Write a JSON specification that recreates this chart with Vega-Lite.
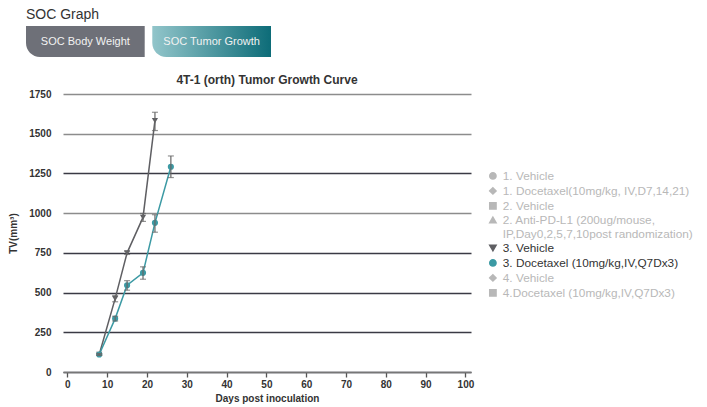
{
  "$schema": "https://vega.github.io/schema/vega-lite/v6.json",
  "padding": {"left": 8, "top": 8, "right": 5, "bottom": 5},
  "config": {
    "font": "Liberation Sans",
    "view": {"stroke": null},
    "concat": {"spacing": 17}
  },
  "vconcat": [
    {
      "width": 245,
      "height": 31,
      "title": {"text": "SOC Graph", "anchor": "start", "fontSize": 14, "fontWeight": "normal", "color": "#333333", "offset": 4},
      "data": {"values": [{"tab": "SOC Body Weight"}, {"tab": "SOC Tumor Growth"}]},
      "encoding": {
        "x": {"field": "tab", "type": "nominal", "axis": null,
              "scale": {"domain": ["SOC Body Weight", "SOC Tumor Growth"], "range": [-37, 208], "paddingInner": 0.06, "paddingOuter": 0}}
      },
      "layer": [
        {
          "transform": [{"filter": "datum.tab == 'SOC Body Weight'"}],
          "mark": {"type": "bar", "fill": "#6e7078", "cornerRadiusBottomLeft": 14}
        },
        {
          "transform": [{"filter": "datum.tab == 'SOC Tumor Growth'"}],
          "mark": {"type": "bar", "cornerRadiusBottomLeft": 14,
                   "fill": {"gradient": "linear", "x1": 0, "y1": 0, "x2": 1, "y2": 0,
                            "stops": [{"offset": 0, "color": "#92c5ca"}, {"offset": 1, "color": "#0d6c78"}]}}
        },
        {
          "mark": {"type": "text", "color": "#f2f2f2", "fontSize": 11},
          "encoding": {"text": {"field": "tab"}}
        }
      ]
    },
    {
      "width": 408,
      "height": 278,
      "title": {"text": "4T-1 (orth) Tumor Growth Curve", "fontSize": 12, "fontWeight": "bold", "color": "#333333", "offset": 2},
      "data": {
        "values": [
          {"group": "3. Vehicle", "day": 8, "tv": 110, "lo": 105, "hi": 115},
          {"group": "3. Vehicle", "day": 12, "tv": 462, "lo": 442, "hi": 482},
          {"group": "3. Vehicle", "day": 15, "tv": 750, "lo": 740, "hi": 760},
          {"group": "3. Vehicle", "day": 19, "tv": 973, "lo": 948, "hi": 998},
          {"group": "3. Vehicle", "day": 22, "tv": 1582, "lo": 1520, "hi": 1635},
          {"group": "3. Docetaxel (10mg/kg,IV,Q7Dx3)", "day": 8, "tv": 110, "lo": 105, "hi": 115},
          {"group": "3. Docetaxel (10mg/kg,IV,Q7Dx3)", "day": 12, "tv": 336, "lo": 321, "hi": 351},
          {"group": "3. Docetaxel (10mg/kg,IV,Q7Dx3)", "day": 15, "tv": 546, "lo": 515, "hi": 575},
          {"group": "3. Docetaxel (10mg/kg,IV,Q7Dx3)", "day": 19, "tv": 624, "lo": 584, "hi": 662},
          {"group": "3. Docetaxel (10mg/kg,IV,Q7Dx3)", "day": 22, "tv": 939, "lo": 880, "hi": 990},
          {"group": "3. Docetaxel (10mg/kg,IV,Q7Dx3)", "day": 26, "tv": 1292, "lo": 1224, "hi": 1360}
        ]
      },
      "encoding": {
        "x": {
          "field": "day", "type": "quantitative",
          "scale": {"domain": [-1.1, 101.4], "nice": false, "zero": false},
          "axis": {
            "values": [0, 10, 20, 30, 40, 50, 60, 70, 80, 90, 100], "tickCount": 20, "labelOverlap": false,
            "title": "Days post inoculation", "titleFontSize": 10, "titleFontWeight": "bold", "titleColor": "#333333", "titlePadding": 4,
            "labelFontSize": 10, "labelFontWeight": "bold", "labelColor": "#333333", "labelPadding": 2,
            "grid": false, "domainColor": "#777777", "domainWidth": 1.3, "tickColor": "#555555", "tickSize": 5, "tickWidth": 1.3
          }
        }
      },
      "layer": [
        {
          "mark": {"type": "line", "strokeWidth": 1.5},
          "encoding": {
            "y": {
              "field": "tv", "type": "quantitative",
              "scale": {"domain": [0, 1750], "nice": false},
              "axis": {
                "values": [0, 250, 500, 750, 1000, 1250, 1500, 1750], "tickCount": 20, "format": "d", "labelOverlap": false,
                "title": "TV(mm³)", "titleFontSize": 10, "titleFontWeight": "bold", "titleColor": "#333333", "titlePadding": 10,
                "labelFontSize": 10, "labelFontWeight": "bold", "labelColor": "#333333", "labelPadding": 12,
                "domain": false, "ticks": false, "grid": true, "gridWidth": 1.3,
                "gridColor": {"condition": {"test": "datum.value == 1000 || datum.value == 1500 || datum.value == 1750", "value": "#8c8c8c"}, "value": "#3a3a44"}
              }
            },
            "color": {
              "field": "group", "type": "nominal",
              "scale": {
                "domain": ["1. Vehicle", "1. Docetaxel(10mg/kg, IV,D7,14,21)", "2. Vehicle", "2. Anti-PD-L1 (200ug/mouse, IP,Day0,2,5,7,10post randomization)", "3. Vehicle", "3. Docetaxel (10mg/kg,IV,Q7Dx3)", "4. Vehicle", "4.Docetaxel (10mg/kg,IV,Q7Dx3)"],
                "range": ["#b8b8b8", "#b8b8b8", "#b8b8b8", "#b8b8b8", "#5f5f63", "#3c9aa4", "#b8b8b8", "#b8b8b8"]
              },
              "legend": {
                "orient": "none", "legendX": 424, "legendY": 144, "title": null,
                "labelFontSize": 11.8, "labelLimit": 400, "rowPadding": 1, "symbolSize": 40,
                "labelColor": {"expr": "datum.index == 4 || datum.index == 5 ? '#333333' : '#b8b8b8'"},
                "labelExpr": "datum.label == '2. Anti-PD-L1 (200ug/mouse, IP,Day0,2,5,7,10post randomization)' ? ['2. Anti-PD-L1 (200ug/mouse,', 'IP,Day0,2,5,7,10post randomization)'] : datum.label"
              }
            }
          }
        },
        {
          "mark": {"type": "point", "filled": true, "size": 38, "opacity": 1},
          "encoding": {
            "y": {"field": "tv", "type": "quantitative"},
            "color": {
              "field": "group", "type": "nominal",
              "legend": {
                "orient": "none", "legendX": 424, "legendY": 144, "title": null,
                "labelFontSize": 11.8, "labelLimit": 400, "rowPadding": 1, "symbolSize": 40,
                "labelColor": {"expr": "datum.index == 4 || datum.index == 5 ? '#333333' : '#b8b8b8'"},
                "labelExpr": "datum.label == '2. Anti-PD-L1 (200ug/mouse, IP,Day0,2,5,7,10post randomization)' ? ['2. Anti-PD-L1 (200ug/mouse,', 'IP,Day0,2,5,7,10post randomization)'] : datum.label"
              }
            },
            "shape": {
              "field": "group", "type": "nominal",
              "scale": {
                "domain": ["1. Vehicle", "1. Docetaxel(10mg/kg, IV,D7,14,21)", "2. Vehicle", "2. Anti-PD-L1 (200ug/mouse, IP,Day0,2,5,7,10post randomization)", "3. Vehicle", "3. Docetaxel (10mg/kg,IV,Q7Dx3)", "4. Vehicle", "4.Docetaxel (10mg/kg,IV,Q7Dx3)"],
                "range": ["circle", "diamond", "square", "triangle-up", "triangle-down", "circle", "diamond", "square"]
              },
              "legend": {
                "orient": "none", "legendX": 424, "legendY": 144, "title": null,
                "labelFontSize": 11.8, "labelLimit": 400, "rowPadding": 1, "symbolSize": 40,
                "labelColor": {"expr": "datum.index == 4 || datum.index == 5 ? '#333333' : '#b8b8b8'"},
                "labelExpr": "datum.label == '2. Anti-PD-L1 (200ug/mouse, IP,Day0,2,5,7,10post randomization)' ? ['2. Anti-PD-L1 (200ug/mouse,', 'IP,Day0,2,5,7,10post randomization)'] : datum.label"
              }
            }
          }
        },
        {
          "mark": {"type": "rule", "color": "#666666", "strokeWidth": 1.2},
          "encoding": {"y": {"field": "lo", "type": "quantitative"}, "y2": {"field": "hi"}}
        },
        {
          "mark": {"type": "tick", "color": "#666666", "orient": "horizontal", "size": 6, "thickness": 1.2},
          "encoding": {"y": {"field": "lo", "type": "quantitative"}}
        },
        {
          "mark": {"type": "tick", "color": "#666666", "orient": "horizontal", "size": 6, "thickness": 1.2},
          "encoding": {"y": {"field": "hi", "type": "quantitative"}}
        }
      ]
    }
  ]
}
